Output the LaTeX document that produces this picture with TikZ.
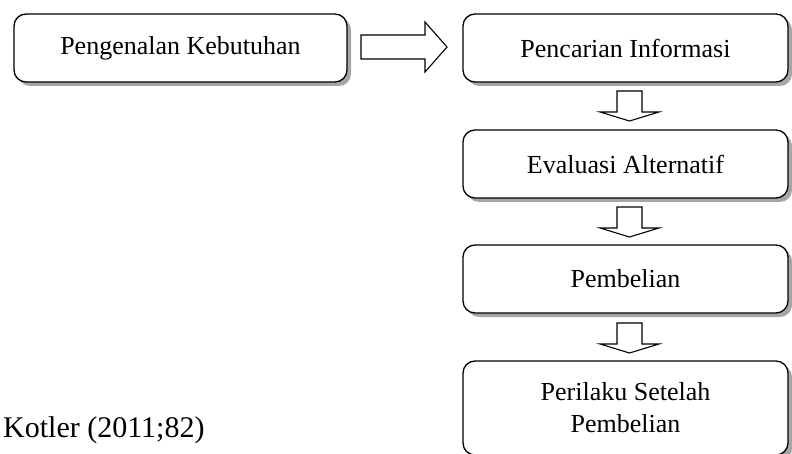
\documentclass[tikz,border=0pt]{standalone}
\usepackage{fontspec}
\setmainfont{Liberation Serif}
\begin{document}
\begin{tikzpicture}[x=1pt,y=-1pt,
  stage/.style={draw,line width=1.3pt,rounded corners=12pt,fill=white,
    minimum width=325pt,minimum height=68pt,align=center,font=\fontsize{26}{32}\selectfont,
    inner sep=0pt},
  blockarrow/.style={draw,line width=1.1pt,fill=white}]
\useasboundingbox (0,0) rectangle (792,454);
% shadows
\fill[black!35,rounded corners=12pt] (18,18) rectangle (351,86);
\foreach \t/\b in {14/82,130/198,245/313,361/457}{
  \fill[black!35,rounded corners=12pt] (467,\t+4) rectangle (792,\b+4);
}
\node[stage,minimum width=333pt] (a) at (180.5,48) {Pengenalan Kebutuhan};
\node[stage] (b) at (625.5,48) {Pencarian Informasi};
\node[stage] (c) at (625.5,164) {Evaluasi Alternatif};
\node[stage] (d) at (625.5,279) {Pembelian};
\node[stage,minimum height=94pt] (e) at (625.5,408) {Perilaku Setelah\\Pembelian};
% right arrow
\draw[blockarrow] (361,35) -- (425,35) -- (425,22) -- (447,47) -- (425,72) -- (425,59) -- (361,59) -- cycle;
% down arrows
\foreach \t in {91,207,323}{
  \draw[blockarrow] (617,\t) -- (642,\t) -- (642,\t+21) -- (659,\t+21) -- (629.5,\t+30) -- (600,\t+21) -- (617,\t+21) -- cycle;
}
\node[anchor=base west,font=\fontsize{30}{36}\selectfont,inner sep=0pt] (src) at (3,437) {Kotler (2011;82)};
\end{tikzpicture}
\end{document}
